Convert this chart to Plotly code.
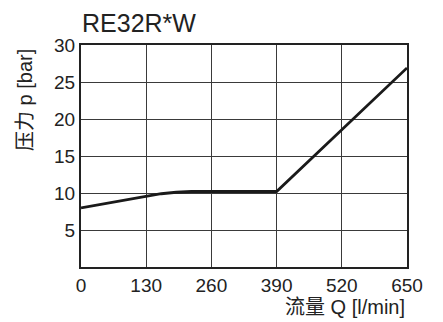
import plotly.graph_objects as go

# data
flow = [0, 65, 130, 160, 190, 220, 390, 650]
pressure = [8.0, 8.8, 9.6, 9.9, 10.1, 10.2, 10.2, 26.9]
x_ticks = [0, 130, 260, 390, 520, 650]
y_ticks = [5, 10, 15, 20, 25, 30]

fonte = dict(family='Liberation Sans, Arial, sans-serif', color='#222222')
fonte_cjk = dict(family='Liberation Sans, Noto Sans CJK SC, sans-serif', color='#222222')

# page body has an 8px margin, so everything is placed 8px up/left
fig = go.Figure(layout=go.Layout(width=443, height=322))

fig.add_trace(go.Scatter(x=flow, y=pressure, mode='lines', line=dict(color='#1a1a1a', width=2.8)))

fig.update_layout(
    margin=dict(l=73, r=44, t=37, b=63),
    plot_bgcolor='white',
    paper_bgcolor='white',
    showlegend=False,
    title=dict(text='RE32R*W', x=74/443, xanchor='left', y=1 - 15/322, yanchor='middle',
               font=dict(size=25, **fonte)),
    xaxis=dict(range=[0, 650], tickvals=x_ticks, showgrid=True, gridcolor='#3a3a3a', gridwidth=1,
               showline=True, linecolor='#222222', linewidth=2, mirror=True, zeroline=False,
               ticks='', tickfont=dict(size=19, **fonte), fixedrange=True),
    yaxis=dict(range=[0, 30], tickvals=y_ticks, showgrid=True, gridcolor='#3a3a3a', gridwidth=1,
               showline=True, linecolor='#222222', linewidth=2, mirror=True, zeroline=False,
               ticks='', tickfont=dict(size=19, **fonte), fixedrange=True),
)

fig.add_annotation(text='压力 p [bar]', textangle=-90, xref='paper', yref='paper',
                   x=(17 - 73)/326, y=1 - (92 - 37)/222, xanchor='center', yanchor='middle', showarrow=False,
                   font=dict(size=20, **fonte_cjk))
fig.add_annotation(text='流量 Q [l/min]', xref='paper', yref='paper',
                   x=1.0, y=-40/222, xanchor='right', yanchor='middle', showarrow=False,
                   font=dict(size=20, **fonte_cjk))

fig.write_html("out.html")
